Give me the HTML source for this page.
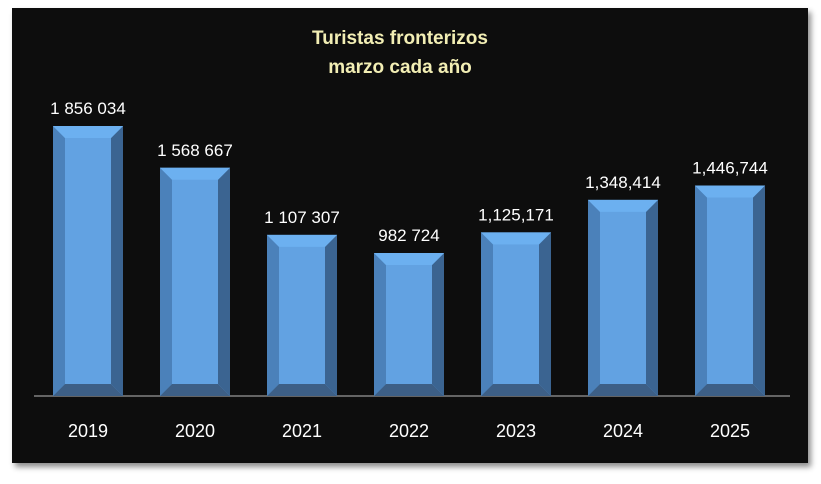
<!DOCTYPE html>
<html><head><meta charset="utf-8"><style>
body{margin:0;background:#fff;width:821px;height:479px;overflow:hidden;font-family:"Liberation Sans",sans-serif}
</style></head><body>
<svg width="821" height="479">
<defs><filter id="sh" x="-5%" y="-5%" width="110%" height="115%"><feDropShadow dx="3" dy="4" stdDeviation="3" flood-color="#000" flood-opacity="0.45"/></filter></defs>
<rect x="12" y="8" width="796" height="455" fill="#0d0d0d" filter="url(#sh)"/>
<text x="400" y="44" text-anchor="middle" fill="#f2eeb4" font-weight="bold" font-size="19">Turistas fronterizos</text>
<text x="400" y="73" text-anchor="middle" fill="#f2eeb4" font-weight="bold" font-size="19">marzo cada año</text>
<line x1="34" y1="396" x2="790" y2="396" stroke="#bbb" stroke-width="1"/>
<g id="bars"></g>
</svg>
<script>
const categories=["2019","2020","2021","2022","2023","2024","2025"];
const values=[1856034,1568667,1107307,982724,1125171,1348414,1446744];
const labels=["1 856 034","1 568 667","1 107 307","982 724","1,125,171","1,348,414","1,446,744"];
const base=396,scale=270/1856034,x0=88,step=107,bw=70,bv=12;
const ns="http://www.w3.org/2000/svg",g=document.getElementById("bars");
function xPos(i){return x0+i*step;}
function yPos(v){return base-v*scale;}
function poly(pts,fill,name){const p=document.createElementNS(ns,"polygon");p.setAttribute("points",pts.map(a=>a.join(",")).join(" "));p.setAttribute("fill",fill);


g.appendChild(p);}
values.forEach((v,i)=>{
const cx=xPos(i),l=cx-bw/2,r=cx+bw/2,t=yPos(v),b=base;
poly([[l,t],[r,t],[r,b],[l,b]],"#62a2e2","bar-"+categories[i]);
poly([[l,t],[l+bv,t+bv],[l+bv,b-bv],[l,b]],"#4b81ba","bar-left-bevel-"+categories[i]);
poly([[r,t],[r-bv,t+bv],[r-bv,b-bv],[r,b]],"#3b6491","bar-right-bevel-"+categories[i]);
poly([[l,t],[r,t],[r-bv,t+bv],[l+bv,t+bv]],"#6cb0f0","bar-top-bevel-"+categories[i]);
poly([[l,b],[r,b],[r-bv,b-bv],[l+bv,b-bv]],"#3d5f86","bar-bottom-bevel-"+categories[i]);
const tl=document.createElementNS(ns,"text");tl.setAttribute("x",cx);tl.setAttribute("y",t-12);tl.setAttribute("text-anchor","middle");tl.setAttribute("fill","#fff");tl.setAttribute("font-size","17");tl.textContent=labels[i];


g.appendChild(tl);
const xl=document.createElementNS(ns,"text");xl.setAttribute("x",cx);xl.setAttribute("y",437);xl.setAttribute("text-anchor","middle");xl.setAttribute("fill","#fff");xl.setAttribute("font-size","18");xl.textContent=categories[i];


g.appendChild(xl);
});
</script>
</body></html>
